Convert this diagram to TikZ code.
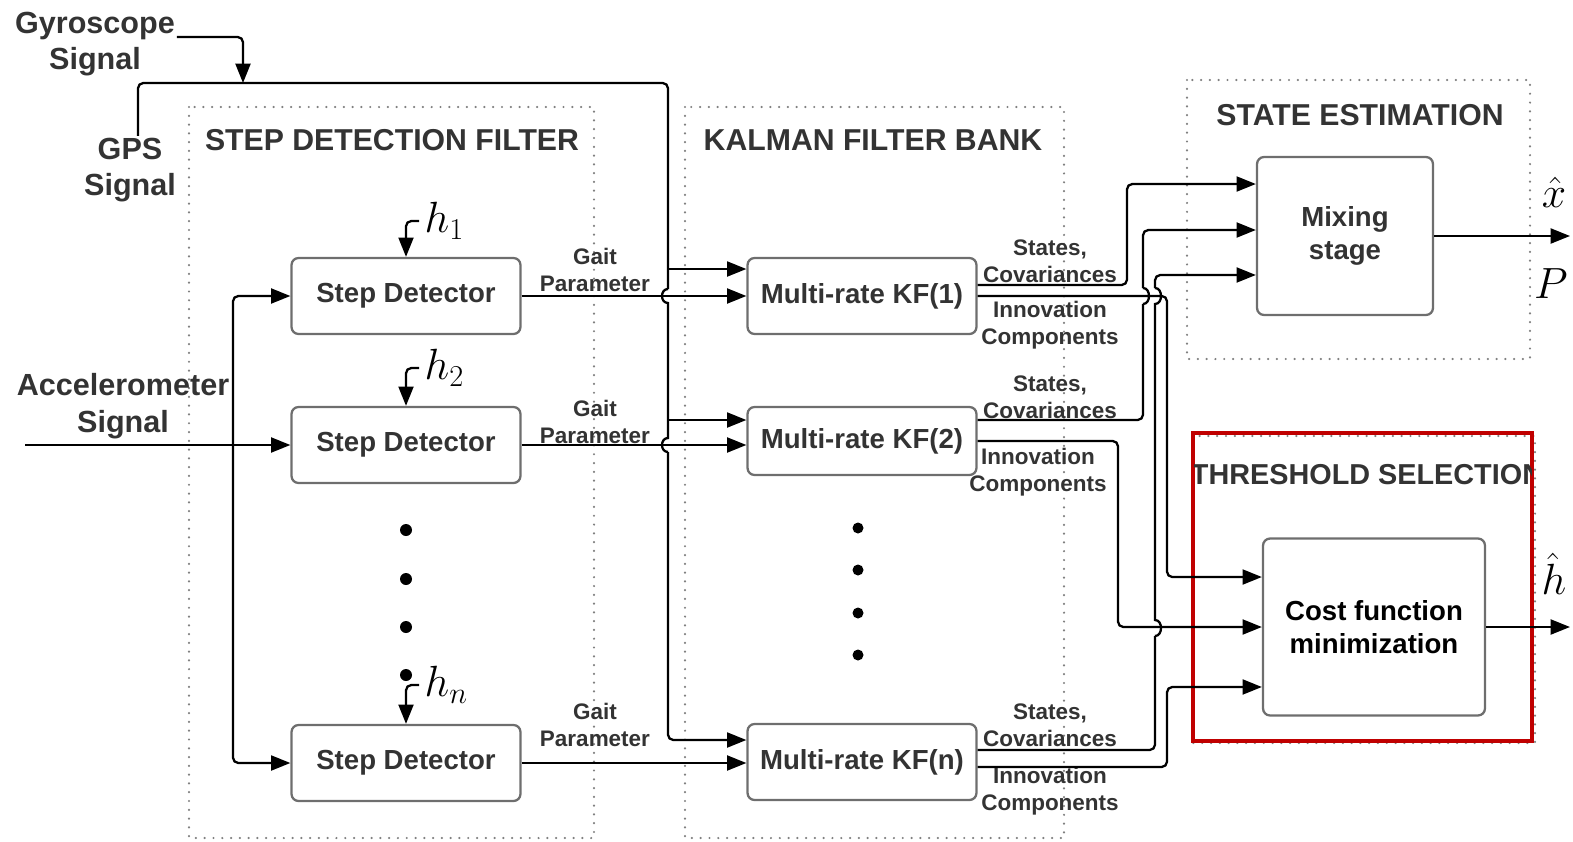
\documentclass[tikz,border=0pt]{standalone}
\usepackage[no-math]{fontspec}
\setmainfont{Liberation Sans}
\usetikzlibrary{arrows.meta,positioning}

\definecolor{boxline}{HTML}{6E6E6E}
\definecolor{txt}{HTML}{333333}
\definecolor{dots}{HTML}{808080}
\definecolor{selred}{HTML}{C00000}

\begin{document}
\begin{tikzpicture}[x=0.02cm, y=-0.02cm,
  wire/.style={line width=1.3pt, draw=black},
  arr/.style={wire, -{Triangle[length=11pt,width=8.5pt]}},
  block/.style={draw=boxline, line width=1.3pt, rounded corners=4pt, text=txt,
    font=\bfseries\fontsize{15.7}{19}\selectfont, align=center,
    minimum width=4.58cm, minimum height=1.52cm, inner sep=0pt},
  group/.style={draw=dots, line width=1.4pt, dash pattern=on 0pt off 5pt, line cap=round},
  title/.style={text=txt, font=\bfseries\fontsize{17.2}{20}\selectfont, inner sep=0pt},
  sig/.style={text=txt, font=\bfseries\fontsize{17.4}{20.7}\selectfont, align=center, inner sep=1pt},
  small/.style={text=txt, font=\bfseries\fontsize{12.8}{15.3}\selectfont, align=center, inner sep=0pt},
  gain/.style={font=\fontsize{23}{27}\selectfont, inner sep=3pt},
  outlbl/.style={font=\fontsize{27}{31}\selectfont, inner sep=0pt},
]
\useasboundingbox (0,0) rectangle (1573,842);

% dotted groups
\draw[group] (189,107) rectangle (594,838);
\draw[group] (685,107) rectangle (1064,838);
\draw[group] (1187,80) rectangle (1530,359);
\draw[group] (1193,436) rectangle (1535,743);
\draw[selred, line width=1.8pt] (1193,433) rectangle (1532,741);

\node[title] (tsd) at (392,140) {STEP DETECTION FILTER};
\node[title] (tkf) at (873,140) {KALMAN FILTER BANK};
\node[title] (tse) at (1360,115) {STATE ESTIMATION};
\begin{scope}
\clip (1194,434) rectangle (1531,740);
\node[title, font=\bfseries\fontsize{16.4}{19}\selectfont] (tth) at (1367,475) {THRESHOLD SELECTION};
\end{scope}

% inputs
\node[sig] (gyro) at (95,44) {Gyroscope\\Signal};
\node[sig] (gps) at (130,170) {GPS\\Signal};
\node[sig] (acc) at (123,406) {Accelerometer\\Signal};

% blocks
\node[block] (sd1) at (406,296) {Step Detector};
\node[block] (sd2) at (406,445) {Step Detector};
\node[block] (sdn) at (406,763) {Step Detector};
\node[block] (kf1) at (862,296) {Multi-rate KF(1)};
\node[block, minimum height=1.36cm] (kf2) at (862,441) {Multi-rate KF(2)};
\node[block] (kfn) at (862,762) {Multi-rate KF(n)};
\node[block, minimum width=3.52cm, minimum height=3.16cm] (mix) at (1345,236) {Mixing\\stage};
\node[block, text=black, minimum width=4.44cm, minimum height=3.54cm] (cost) at (1374,627) {Cost function\\minimization};

% thresholds
\node[gain, anchor=west] (lh1) at (419,221) {$h_1$};
\node[gain, anchor=west] (lh2) at (419,368) {$h_2$};
\node[gain, anchor=west] (lhn) at (419,685) {$h_n$};
\draw[arr, rounded corners=3pt] (lh1.west) -| (sd1.north);
\draw[arr, rounded corners=3pt] (lh2.west) -| (sd2.north);
\draw[arr, rounded corners=3pt] (lhn.west) -| (sdn.north);

\foreach \y in {530,579,627,675} \fill (406,\y) circle[radius=0.12cm];
\foreach \y in {528,570,613,655} \fill (858,\y) circle[radius=0.11cm];

% labels
\node[small] (g1) at (595,270) {Gait\\Parameter};
\node[small] (g2) at (595,422) {Gait\\Parameter};
\node[small] (gn) at (595,725) {Gait\\Parameter};
\node[small] (s1) at (1050,261) {States,\\Covariances};
\node[small] (i1) at (1050,325) {Innovation\\Components};
\node[small] (s2) at (1050,397) {States,\\Covariances};
\node[small] (i2) at (1038,472) {Innovation\\Components};
\node[small] (sn) at (1050,725) {States,\\Covariances};
\node[small] (in) at (1050,791) {Innovation\\Components};

\node[outlbl] (xhat) at (1554,192) {$\hat{x}$};
\node[outlbl] (pout) at (1551,284) {$P$};
\node[outlbl] (hhat) at (1554,574) {$\hat{h}$};

% accelerometer
\coordinate (accin) at (25,445);
\coordinate (split) at (233,445);
\draw[arr] (accin) -- (sd2.west);
\draw[arr, rounded corners=3pt] (split) |- (sd1.west);
\draw[arr, rounded corners=3pt] (split) |- (sdn.west);

% gyroscope and gps
\coordinate (gyrorow) at (0,37);
\coordinate (gyroin) at (243,83);
\coordinate (bus) at (668,83);
\draw[arr, rounded corners=3pt] (gyro.east |- gyrorow) -| (gyroin);
\draw[wire, rounded corners=3pt] ([xshift=0.16cm]gps.north) |- (bus) -- (668,289);
\draw[wire] (668,289) .. controls (660,289) and (660,303) .. (668,303) -- (668,438)
  .. controls (660,438) and (660,452) .. (668,452);
\draw[arr, rounded corners=3pt] (668,452) |- ([yshift=0.44cm]kfn.west);
\draw[arr] ([yshift=0.54cm]kf1.west -| bus) -- ([yshift=0.54cm]kf1.west);
\draw[arr] ([yshift=0.42cm]kf2.west -| bus) -- ([yshift=0.42cm]kf2.west);

% gait parameters
\draw[arr] (sd1.east) -- (sd1.east -| kf1.west);
\draw[arr] (sd2.east) -- (sd2.east -| kf2.west);
\draw[arr] (sdn.east) -- (sdn.east -| kfn.west);

% states to mixing
\draw[arr, rounded corners=3pt] ([yshift=0.22cm]kf1.east) -| (1127,230) |- ([yshift=1.04cm]mix.west);
\draw[wire, rounded corners=3pt] ([yshift=0.42cm]kf2.east) -| (1143,304);
\draw[wire] (1143,304) .. controls (1151,304) and (1151,288) .. (1143,288);
\draw[arr, rounded corners=3pt] (1143,288) |- ([yshift=0.12cm]mix.west);
\draw[wire, rounded corners=3pt] ([yshift=0.24cm]kfn.east) -| (1155,636);
\draw[wire] (1155,636) .. controls (1163,636) and (1163,620) .. (1155,620) -- (1155,304)
  .. controls (1163,304) and (1163,288) .. (1155,288);
\draw[arr, rounded corners=3pt] (1155,288) |- ([yshift=-0.78cm]mix.west);

% innovations to cost
\draw[arr, rounded corners=3pt] (kf1.east) -| (1167,450) |- ([yshift=1.0cm]cost.west);
\draw[arr, rounded corners=3pt] (kf2.east) -| (1118,500) |- (cost.west);
\draw[arr, rounded corners=3pt] ([yshift=-0.1cm]kfn.east) -| (1167,720) |- ([yshift=-1.2cm]cost.west);

% outputs
\coordinate (xend) at (1570,0);
\draw[arr] (mix.east) -- (mix.east -| xend);
\draw[arr] (cost.east) -- (cost.east -| xend);
\end{tikzpicture}
\end{document}
